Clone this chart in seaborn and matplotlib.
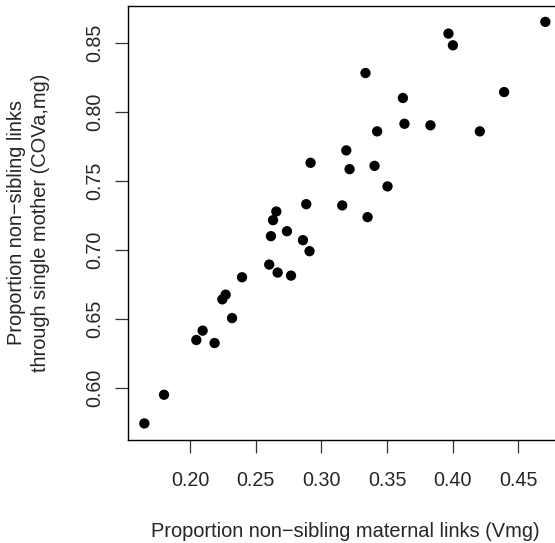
import matplotlib
matplotlib.use("Agg")
import matplotlib.pyplot as plt
import seaborn as sns
import pandas as pd

# Data
vmg = [0.4706, 0.3968, 0.4002, 0.3336, 0.4392, 0.3621, 0.3633, 0.3831, 0.4207,
       0.3425, 0.3190, 0.2918, 0.3215, 0.3405, 0.3504, 0.2885, 0.3159, 0.3352,
       0.2657, 0.2632, 0.2738, 0.2616, 0.2860, 0.2910, 0.2603, 0.2667, 0.2769,
       0.2396, 0.2271, 0.2246, 0.2320, 0.2096, 0.2048, 0.2187, 0.1802, 0.1652]
cova_mg = [0.8655, 0.8570, 0.8485, 0.8284, 0.8146, 0.8103, 0.7916, 0.7905, 0.7861,
           0.7861, 0.7723, 0.7633, 0.7587, 0.7611, 0.7462, 0.7333, 0.7324, 0.7239,
           0.7280, 0.7217, 0.7137, 0.7101, 0.7072, 0.6992, 0.6895, 0.6837, 0.6815,
           0.6803, 0.6677, 0.6643, 0.6507, 0.6416, 0.6348, 0.6326, 0.5951, 0.5743]
x_ticks = [0.20, 0.25, 0.30, 0.35, 0.40, 0.45]
y_ticks = [0.60, 0.65, 0.70, 0.75, 0.80, 0.85]
x_label = "Proportion non\u2212sibling maternal links (Vmg)"
y_label = "Proportion non\u2212sibling links\nthrough single mother (COVa,mg)"

sns.set_style("white")
plt.rcParams['font.family'] = ['Liberation Sans', 'DejaVu Sans']

df = pd.DataFrame({"vmg": vmg, "cova": cova_mg})

fig = plt.figure(figsize=(5.55, 5.43), dpi=100)
ax = fig.add_axes([128.3 / 555, (543 - 439.5) / 543, (561.4 - 128.3) / 555, (439.5 - 5.8) / 543])

sns.scatterplot(data=df, x="vmg", y="cova", ax=ax, color="black", s=55,
                linewidth=0, edgecolor="none")

# R-style 4% padding
def padded(v):
    lo, hi = min(v), max(v)
    r = hi - lo
    return lo - 0.04 * r, hi + 0.04 * r

ax.set_xlim(*padded(vmg))
ax.set_ylim(*padded(cova_mg))
ax.set_xticks(x_ticks)
ax.set_xticklabels([f"{t:.2f}" for t in x_ticks])
ax.set_yticks(y_ticks)
ax.set_yticklabels([f"{t:.2f}" for t in y_ticks], rotation=90, va="center")

for sp in ax.spines.values():
    sp.set_visible(True)
    sp.set_color("black")
    sp.set_linewidth(1.0)

ax.tick_params(axis="both", direction="out", length=9.4, width=0.9, color="#333333",
               labelsize=14.2, bottom=True, left=True)
ax.tick_params(axis="x", pad=13)
ax.tick_params(axis="y", pad=8)
ax.set_xlabel(x_label, fontsize=14.4)
ax.set_ylabel(y_label, fontsize=14.4, linespacing=1.3)
ax.xaxis.set_label_coords(0.5, -(531.5 - 439.5) / (439.5 - 5.8), transform=ax.transAxes)
ax.xaxis.label.set_va("center")
ax.yaxis.set_label_coords(-(128.3 - 28.5) / (561.4 - 128.3), 0.5, transform=ax.transAxes)
ax.yaxis.label.set_va("center")

fig.savefig("out.png", dpi=100)
